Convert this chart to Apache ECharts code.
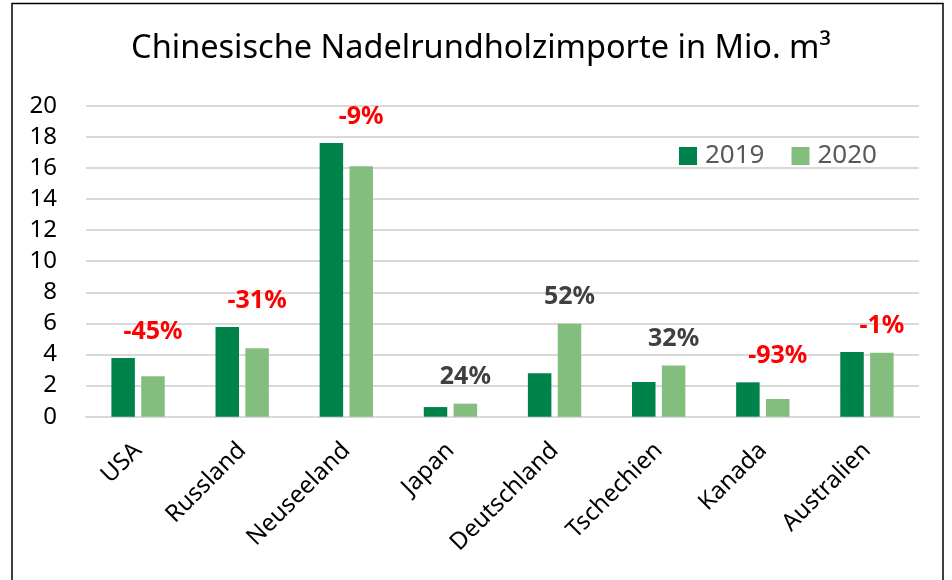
<!DOCTYPE html>
<html>
<head>
<meta charset="utf-8">
<title>Chinesische Nadelrundholzimporte</title>
<script src="https://cdn.jsdelivr.net/npm/echarts@6/dist/echarts.min.js"></script>
<style>
  html, body { margin: 0; padding: 0; background: #fff; }
  #chart { width: 952px; height: 580px; }
</style>
</head>
<body>
<div id="chart"></div>
<script>
// Daten
var laender = ['USA', 'Russland', 'Neuseeland', 'Japan', 'Deutschland', 'Tschechien', 'Kanada', 'Australien'];
var werte2019 = [3.78, 5.77, 17.6, 0.62, 2.79, 2.23, 2.21, 4.16];
var werte2020 = [2.6, 4.4, 16.1, 0.84, 5.98, 3.3, 1.14, 4.12];
var veraenderung = [-45, -31, -9, 24, 52, 32, -93, -1];
var jahre = ['2019', '2020'];

var font = '"Noto Sans", "DejaVu Sans", sans-serif';
var gridTop = 105.7, gridBottom = 163.3;
var yMax = 20;
var pxPerUnit = (580 - gridTop - gridBottom) / yMax;

var chart = echarts.init(document.getElementById('chart'));

// Prozent-Label an der 2020-Säule, über die höhere der beiden Säulen gehoben
var daten2020 = werte2020.map(function (v, i) {
  var hoeher = Math.max(v, werte2019[i]);
  return {
    value: v,
    label: {
      offset: [0, -(hoeher - v) * pxPerUnit],
      color: veraenderung[i] < 0 ? '#FF0000' : '#404040'
    }
  };
});

var option = {
  backgroundColor: '#fff',
  animation: false,
  textStyle: { fontFamily: font },
  graphic: [
    {
      type: 'rect',
      shape: { x: 12, y: 3.5, width: 931, height: 600 },
      style: { fill: 'none', stroke: '#000', lineWidth: 1.5 },
      silent: true
    },
    {
      type: 'text',
      x: 481,
      y: 49,
      style: {
        text: 'Chinesische Nadelrundholzimporte in Mio. m³',
        fontFamily: font,
        fontSize: 32.5,
        fill: '#000',
        align: 'center',
        verticalAlign: 'middle'
      }
    }
  ],
  legend: {
    data: jahre,
    left: 674,
    top: 138,
    itemWidth: 18,
    itemHeight: 18,
    itemGap: 27,
    icon: 'rect',
    textStyle: { fontFamily: font, fontSize: 26, color: '#595959', lineHeight: 26, padding: [0, 0, 0, 3] }
  },
  grid: {
    left: 86,
    right: 33,
    top: gridTop,
    bottom: gridBottom,
    containLabel: false,
    outerBoundsMode: 'none'
  },
  xAxis: {
    type: 'category',
    data: laender,
    axisLine: { show: true, lineStyle: { color: '#d9d9d9', width: 2 } },
    axisTick: { show: false },
    axisLabel: {
      rotate: 45,
      margin: 30,
      fontFamily: font,
      fontSize: 24,
      color: '#000'
    }
  },
  yAxis: {
    type: 'value',
    min: 0,
    max: yMax,
    interval: 2,
    axisLine: { show: false },
    axisTick: { show: false },
    splitLine: { lineStyle: { color: '#d9d9d9', width: 2 } },
    axisLabel: {
      margin: 29,
      fontFamily: font,
      fontSize: 24,
      color: '#000'
    }
  },
  series: [
    {
      name: '2019',
      type: 'bar',
      data: werte2019,
      barWidth: 23.5,
      barGap: '27%',
      itemStyle: { color: '#00834A' }
    },
    {
      name: '2020',
      type: 'bar',
      data: daten2020,
      barWidth: 23.5,
      itemStyle: { color: '#84BE7E' },
      label: {
        show: true,
        position: 'top',
        distance: 14,
        fontFamily: font,
        fontSize: 25,
        fontWeight: 'bold',
        lineHeight: 25,
        formatter: function (p) {
          var v = veraenderung[p.dataIndex];
          return v + '%';
        }
      }
    }
  ]
};

chart.setOption(option);
</script>
</body>
</html>
